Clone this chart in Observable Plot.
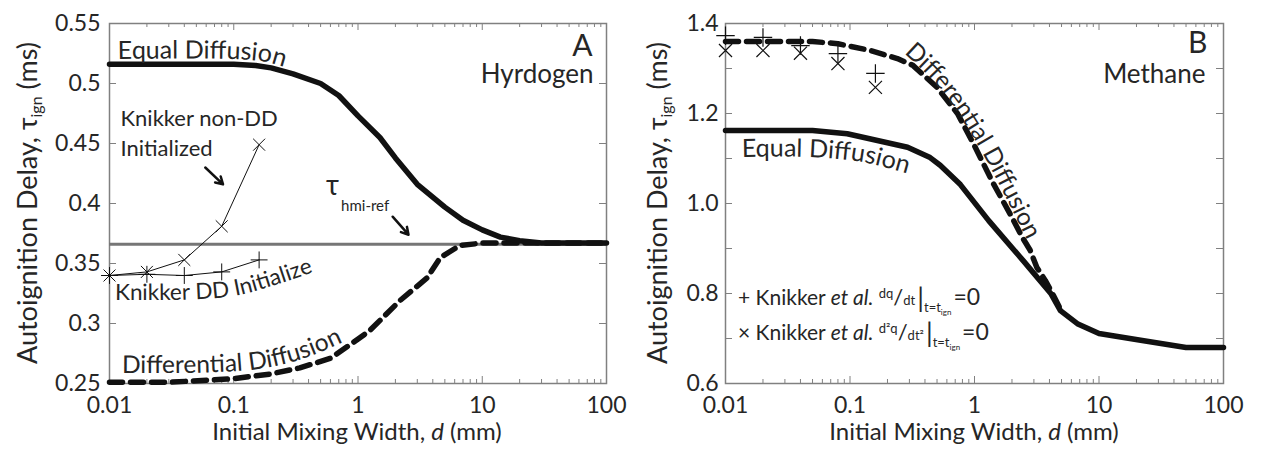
<!DOCTYPE html>
<html><head><meta charset="utf-8">
<script src="https://cdn.jsdelivr.net/npm/d3@7"></script>
<script src="https://cdn.jsdelivr.net/npm/@observablehq/plot@0.6"></script>
<style>
body{margin:0;background:#fff;}
#wrap{position:relative;width:1267px;height:452px;overflow:hidden;}
#a{position:absolute;left:0;top:0;}
#b{position:absolute;left:630px;top:0;}
svg{overflow:visible;}
</style></head><body><div id="wrap"><div id="a"></div><div id="b"></div></div>
<script>
// ---------- axes ----------
const xTicks = [0.01, 0.1, 1, 10, 100];
const xTickLabels = ["0.01", "0.1", "1", "10", "100"];
const yTicksA = [0.25, 0.3, 0.35, 0.4, 0.45, 0.5, 0.55];
const yTickLabelsA = ["0.25", "0.3", "0.35", "0.4", "0.45", "0.5", "0.55"];
const yTicksB = [0.6, 0.8, 1.0, 1.2, 1.4];
const yTickLabelsB = ["0.6", "0.8", "1.0", "1.2", "1.4"];
const yMinorB = [0.7, 0.9, 1.1, 1.3];

// ---------- Panel A: Hydrogen ----------
const edA_d   = [0.01, 0.05, 0.1, 0.15, 0.2, 0.3, 0.5, 0.7, 1, 1.5, 2, 3, 5, 7, 10, 14, 20, 30, 50, 100];
const edA_tau = [0.516, 0.516, 0.516, 0.515, 0.513, 0.508, 0.5, 0.49, 0.473, 0.455, 0.438, 0.416, 0.397, 0.386, 0.378, 0.372, 0.369, 0.367, 0.367, 0.367];
const ddA_d   = [0.01, 0.03, 0.1, 0.2, 0.34, 0.6, 0.91, 1.24, 2.17, 3.6, 4.6, 6.6, 10, 20, 50, 100];
const ddA_tau = [0.251, 0.251, 0.254, 0.258, 0.263, 0.271, 0.284, 0.294, 0.319, 0.338, 0.355, 0.365, 0.367, 0.367, 0.367, 0.367];
const refA = [0.366];
const knikkerD = [0.01, 0.02, 0.04, 0.08, 0.16];
const knikkerNonDD = [0.34, 0.343, 0.353, 0.381, 0.449];
const knikkerDD = [0.34, 0.341, 0.34, 0.343, 0.353];

// ---------- Panel B: Methane ----------
const ddB_d   = [0.01, 0.05, 0.08, 0.146, 0.24, 0.32, 0.5, 0.73, 0.98, 1.4, 2.0, 2.43, 2.8, 3.17, 3.7, 4.23, 4.9];
const ddB_tau = [1.36, 1.36, 1.355, 1.34, 1.322, 1.307, 1.258, 1.2, 1.133, 1.047, 0.969, 0.924, 0.896, 0.858, 0.829, 0.8, 0.765];
const edB_d   = [0.01, 0.05, 0.095, 0.29, 0.44, 0.53, 0.77, 1.3, 2.46, 4.1, 4.9, 6.7, 10, 21.6, 50, 100];
const edB_tau = [1.162, 1.162, 1.155, 1.125, 1.102, 1.085, 1.042, 0.962, 0.873, 0.8, 0.762, 0.733, 0.711, 0.696, 0.68, 0.68];
const knikkerB_d = [0.01, 0.02, 0.04, 0.08, 0.16];
const knikkerB_dqdt = [1.373, 1.369, 1.351, 1.333, 1.289];
const knikkerB_d2qdt2 = [1.34, 1.34, 1.334, 1.311, 1.258];

// ---------- shared helpers ----------
const TEXT = "#262626", FRAME = "#808080";
const H = 452, MT = 23, MB = 69;
const innerH = H - MT - MB;
const xMinor = [];
for (const dec of [0.01, 0.1, 1, 10]) for (let k = 2; k <= 9; k++) xMinor.push(+(dec * k).toPrecision(3));
const lab = (ticks, labels) => { const m = new Map(ticks.map((t, i) => [t, labels[i]])); return d => m.get(d); };

function frameMarks(innerW, yMajor, yLabels, yMinor, tickPad) {
  const tk = {stroke: FRAME, strokeWidth: 1};
  return [
    Plot.frame({stroke: FRAME, strokeWidth: 1.5}),
    Plot.tickX(xTicks, {x: d => d, insetTop: innerH - 7, ...tk}),
    Plot.tickX(xTicks, {x: d => d, insetBottom: innerH - 7, ...tk}),
    Plot.tickX(xMinor, {x: d => d, insetTop: innerH - 4, ...tk}),
    Plot.tickX(xMinor, {x: d => d, insetBottom: innerH - 4, ...tk}),
    Plot.tickY(yMajor, {y: d => d, insetRight: innerW - 7, ...tk}),
    Plot.tickY(yMajor, {y: d => d, insetLeft: innerW - 7, ...tk}),
    Plot.tickY(yMinor, {y: d => d, insetRight: innerW - 7, ...tk}),
    Plot.tickY(yMinor, {y: d => d, insetLeft: innerW - 7, ...tk}),
    Plot.axisX(xTicks, {tickSize: 0, tickPadding: 13, tickFormat: lab(xTicks, xTickLabels), label: null, fontSize: 23}),
    Plot.axisY(yMajor, {tickSize: 0, tickPadding: tickPad, tickFormat: lab(yMajor, yLabels), label: null, fontSize: 23})
  ];
}

function textAlong(svg, id, pts, str, opts = {}) {
  const path = d3.line().curve(d3.curveCatmullRom)(pts);
  svg.append("defs").append("path").attr("id", id).attr("d", path);
  const t = svg.append("text").attr("font-size", opts.size || 21).attr("fill", TEXT)
    .attr("text-anchor", "start")
    .attr("font-style", opts.italic ? "italic" : null);
  t.append("textPath").attr("href", "#" + id).attr("startOffset", 0).text(str);
  return t;
}

function yTitle(svg, x, y) {
  const t = svg.append("text").attr("transform", `translate(${x},${y}) rotate(-90)`)
    .attr("text-anchor", "middle").attr("font-size", 27).attr("fill", TEXT);
  t.append("tspan").text("Autoignition Delay, τ");
  t.append("tspan").attr("font-size", 16).attr("dy", 5).text("ign");
  t.append("tspan").attr("dy", -5).text(" (ms)");
}
function xTitle(svg, x, y) {
  const t = svg.append("text").attr("x", x).attr("y", y)
    .attr("text-anchor", "middle").attr("font-size", 24).attr("fill", TEXT);
  t.append("tspan").text("Initial Mixing Width, ");
  t.append("tspan").attr("font-style", "italic").text("d");
  t.append("tspan").text(" (mm)");
}

const style = {fontFamily: "Lato, sans-serif", fontSize: "23px", color: TEXT, background: "white", overflow: "visible"};

// ---------- Panel A ----------
const WA = 630, MLA = 109, MRA = 24;
const plotA = Plot.plot({
  width: WA, height: H, marginLeft: MLA, marginRight: MRA, marginTop: MT, marginBottom: MB,
  x: {type: "log", domain: [0.01, 100]},
  y: {domain: [0.25, 0.55]},
  style,
  marks: [
    ...frameMarks(WA - MLA - MRA, yTicksA, yTickLabelsA, [], 9),
    Plot.ruleY(refA, {y: d => d, stroke: "#767676", strokeWidth: 3}),
    Plot.line(ddA_tau, {x: ddA_d, y: ddA_tau, stroke: "#111", strokeWidth: 5.5, strokeDasharray: "13,8"}),
    Plot.line(edA_tau, {x: edA_d, y: edA_tau, stroke: "#111", strokeWidth: 5.5}),
    Plot.line(knikkerNonDD, {x: knikkerD, y: knikkerNonDD, stroke: "#111", strokeWidth: 1}),
    Plot.line(knikkerDD, {x: knikkerD, y: knikkerDD, stroke: "#111", strokeWidth: 1}),
    Plot.dot(knikkerNonDD, {x: knikkerD, y: knikkerNonDD, symbol: "times", r: 5.5, stroke: "#111", strokeWidth: 1}),
    Plot.dot(knikkerDD, {x: knikkerD, y: knikkerDD, symbol: "plus", r: 5.5, stroke: "#111", strokeWidth: 1}),
    Plot.arrow([0], {x1: 0.059, y1: 0.43, x2: 0.082, y2: 0.416, stroke: "#111", strokeWidth: 2.5, headLength: 9}),
    Plot.arrow([0], {x1: 1.9, y1: 0.389, x2: 2.55, y2: 0.374, stroke: "#111", strokeWidth: 2.5, headLength: 9}),
    Plot.text(["A"], {frameAnchor: "top-right", dx: -14, dy: 32, textAnchor: "end", lineAnchor: "bottom", fontSize: 30, fill: TEXT}),
    Plot.text(["Hyrdogen"], {frameAnchor: "top-right", dx: -13, dy: 59, textAnchor: "end", lineAnchor: "bottom", fontSize: 26, fill: TEXT}),
    Plot.text(["Knikker non-DD"], {frameAnchor: "top-left", dx: 11, dy: 102, textAnchor: "start", lineAnchor: "bottom", fontSize: 22, fill: TEXT}),
    Plot.text(["Initialized"], {frameAnchor: "top-left", dx: 11, dy: 132, textAnchor: "start", lineAnchor: "bottom", fontSize: 22, fill: TEXT})
  ]
});
document.getElementById("a").appendChild(plotA);
{
  const s = d3.select(plotA);
  yTitle(s, 37, 203);
  xTitle(s, 357, 440);
  textAlong(s, "pA1", [[118, 59], [232, 59], [266, 62], [302, 73]], "Equal Diffusion", {size: 25});
  textAlong(s, "pA2", [[115, 300], [228, 297], [275, 285], [330, 266]], "Knikker DD Initialize", {size: 22.5});
  textAlong(s, "pA3", [[122, 373], [250, 370], [305, 358], [368, 330]], "Differential Diffusion", {size: 24.5});
  const t = s.append("text").attr("x", 326).attr("y", 195).attr("font-size", 28).attr("fill", TEXT).attr("text-anchor", "start");
  t.append("tspan").text("τ");
  t.append("tspan").attr("font-size", 15).attr("dy", 16).attr("dx", 2).text("hmi-ref");
}

// ---------- Panel B ----------
const WB = 637, MLB = 95, MRB = 44;
const plotB = Plot.plot({
  width: WB, height: H, marginLeft: MLB, marginRight: MRB, marginTop: MT, marginBottom: MB,
  x: {type: "log", domain: [0.01, 100]},
  y: {domain: [0.6, 1.4]},
  style,
  marks: [
    ...frameMarks(WB - MLB - MRB, yTicksB, yTickLabelsB, yMinorB, 7),
    Plot.line(ddB_tau, {x: ddB_d, y: ddB_tau, stroke: "#111", strokeWidth: 5.5, strokeDasharray: "13,8"}),
    Plot.line(edB_tau, {x: edB_d, y: edB_tau, stroke: "#111", strokeWidth: 5.5}),
    Plot.dot(knikkerB_dqdt, {x: knikkerB_d, y: knikkerB_dqdt, symbol: "plus", r: 6, stroke: "#111", strokeWidth: 1.2}),
    Plot.dot(knikkerB_d2qdt2, {x: knikkerB_d, y: knikkerB_d2qdt2, symbol: "times", r: 6, stroke: "#111", strokeWidth: 1.2}),
    Plot.text(["B"], {frameAnchor: "top-right", dx: -16, dy: 29, textAnchor: "end", lineAnchor: "bottom", fontSize: 30, fill: TEXT}),
    Plot.text(["Methane"], {frameAnchor: "top-right", dx: -18, dy: 59, textAnchor: "end", lineAnchor: "bottom", fontSize: 26, fill: TEXT})
  ]
});
document.getElementById("b").appendChild(plotB);
{
  const s = d3.select(plotB);
  yTitle(s, 37, 203);
  xTitle(s, 344, 440);
  textAlong(s, "pB1", [[112, 157], [178, 157], [232, 162], [286, 176]], "Equal Diffusion", {size: 25});
  textAlong(s, "pB2", [[274, 53], [302, 80], [327, 112], [350, 149], [370, 186], [388, 222], [402, 250], [416, 280]], "Differential Diffusion", {size: 24.5});
  const legend = [
    {y: 305, sym: "+ ", num: "dq", den: "dt"},
    {y: 340, sym: "× ", num: "d²q", den: "dt²"}
  ];
  for (const L of legend) {
    const t = s.append("text").attr("x", 108).attr("y", L.y).attr("font-size", 21).attr("fill", TEXT).attr("text-anchor", "start");
    t.append("tspan").text(L.sym + "Knikker ");
    t.append("tspan").attr("font-style", "italic").text("et al.");
    t.append("tspan").text(" ");
    t.append("tspan").attr("font-size", 13).attr("dy", -7).text(L.num);
    t.append("tspan").attr("font-size", 22).attr("dy", 7).text("/");
    t.append("tspan").attr("font-size", 13).text(L.den);
    t.append("tspan").attr("font-size", 27).attr("dx", 2).attr("dy", 2).text("|");
    t.append("tspan").attr("font-size", 13).attr("dy", 5).text("t=t");
    t.append("tspan").attr("font-size", 8).attr("dy", 3).text("ign");
    t.append("tspan").attr("font-size", 23).attr("dx", 2).attr("dy", -10).text("=0");
  }
}
</script></body></html>
